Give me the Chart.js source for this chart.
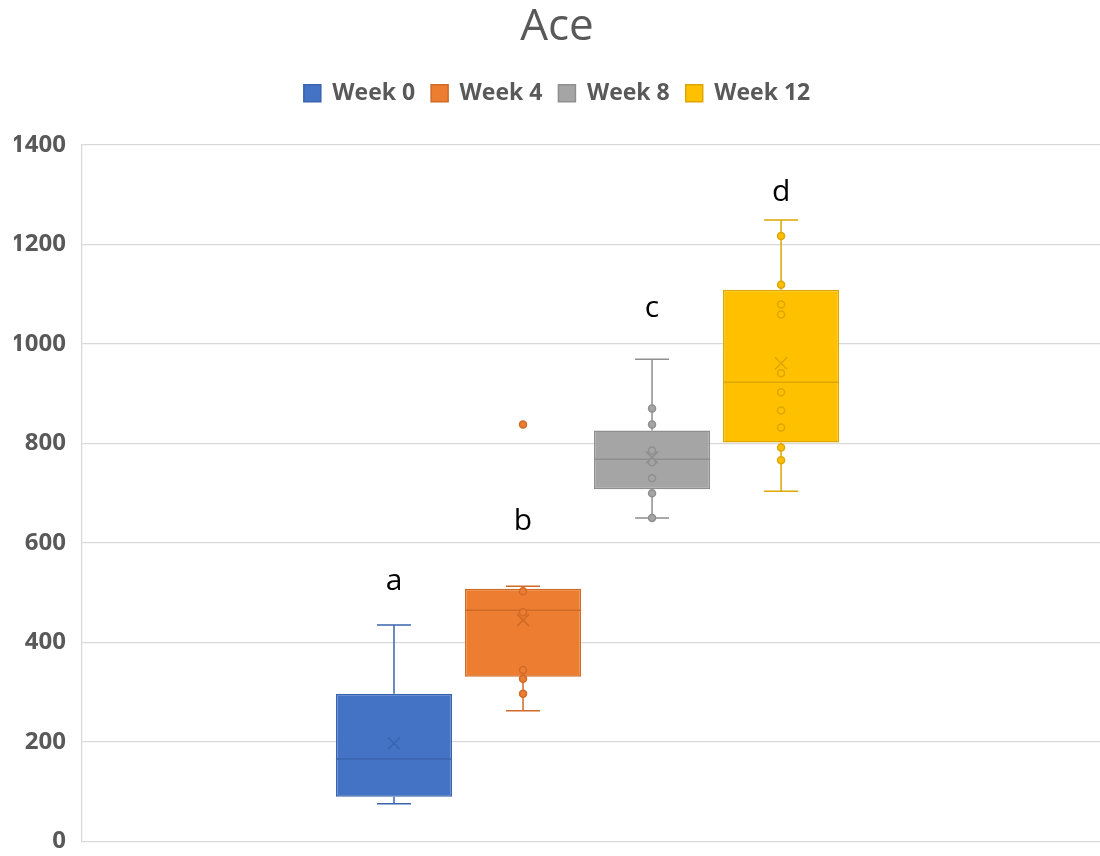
<!DOCTYPE html>
<html>
<head>
<meta charset="utf-8">
<script src="https://cdn.jsdelivr.net/npm/chart.js@4.4.1/dist/chart.umd.min.js"></script>
<style>
  html, body { margin: 0; padding: 0; background: #ffffff; }
  #wrap { width: 1100px; height: 856px; position: relative; }
</style>
</head>
<body>
<div id="wrap"><canvas id="c" width="1100" height="856"></canvas></div>
<script>
// ---- data ----
const seriesNames = ['Week 0', 'Week 4', 'Week 8', 'Week 12'];
const q1Values = [90, 331, 708, 802];
const q3Values = [297, 508, 826, 1109];
const medianValues = [166, 465, 768, 923];
const meanValues = [197, 445, 772, 961];
const whiskerLow = [76, 263, 650, 704];
const whiskerHigh = [435, 513, 969, 1249];
const pointValues = [
  [],
  [297, 327, 345, 461, 503, 838],
  [650, 700, 730, 762, 786, 838, 870],
  [766, 792, 832, 866, 903, 941, 1059, 1079, 1119, 1217]
];
const groupLetters = ['a', 'b', 'c', 'd'];
const letterValues = [505, 626, 1055, 1288];
const yTicks = [0, 200, 400, 600, 800, 1000, 1200, 1400];

// ---- styles ----
const fillColors = ['#4472C4', '#ED7D31', '#A5A5A5', '#FFC000'];
const lineColors = ['#3A64AE', '#CF6A27', '#8F8F8F', '#DDA600'];
const FONT = "'Open Sans', 'Liberation Sans', sans-serif";

const legendSpacer = {
  id: 'legendSpacer',
  beforeInit(chart) {
    const lg = chart.legend;
    if (!lg) return;
    const origFit = lg.fit;
    lg.fit = function () {
      origFit.call(this);
      this.height += 30;
    };
  }
};

const boxPlotPlugin = {
  id: 'boxPlotExtras',
  afterDatasetsDraw(chart) {
    const ctx = chart.ctx;
    const y = chart.scales.y;
    chart.data.datasets.forEach((ds, i) => {
      const meta = chart.getDatasetMeta(i);
      if (meta.hidden) return;
      const el = meta.data[0];
      if (!el) return;
      const cx = el.x;
      const halfW = el.width / 2;
      const col = lineColors[i];
      ctx.save();
      ctx.strokeStyle = col;
      ctx.lineWidth = 1.5;
      // whiskers
      const capHalf = 17;
      const yh = y.getPixelForValue(whiskerHigh[i]);
      const yl = y.getPixelForValue(whiskerLow[i]);
      ctx.beginPath();
      ctx.moveTo(cx, y.getPixelForValue(q3Values[i]));
      ctx.lineTo(cx, yh);
      ctx.moveTo(cx, y.getPixelForValue(q1Values[i]));
      ctx.lineTo(cx, yl);
      ctx.moveTo(cx - capHalf, yh); ctx.lineTo(cx + capHalf, yh);
      ctx.moveTo(cx - capHalf, yl); ctx.lineTo(cx + capHalf, yl);
      ctx.stroke();
      // median
      const ym = y.getPixelForValue(medianValues[i]);
      ctx.beginPath();
      ctx.moveTo(cx - halfW, ym); ctx.lineTo(cx + halfW, ym);
      ctx.stroke();
      // mean X
      const ya = y.getPixelForValue(meanValues[i]);
      const s = 6;
      ctx.beginPath();
      ctx.moveTo(cx - s, ya - s); ctx.lineTo(cx + s, ya + s);
      ctx.moveTo(cx - s, ya + s); ctx.lineTo(cx + s, ya - s);
      ctx.stroke();
      // points
      ctx.fillStyle = fillColors[i];
      pointValues[i].forEach(v => {
        const py = y.getPixelForValue(v);
        ctx.beginPath();
        ctx.arc(cx, py, 3.5, 0, Math.PI * 2);
        ctx.fill();
        ctx.stroke();
      });
      // letter
      ctx.fillStyle = '#000000';
      ctx.font = '30px ' + FONT;
      ctx.textAlign = 'center';
      ctx.textBaseline = 'alphabetic';
      ctx.fillText(groupLetters[i], cx, y.getPixelForValue(letterValues[i]));
      ctx.restore();
    });
  }
};

const datasets = seriesNames.map((name, i) => ({
  label: name,
  data: [[q1Values[i], q3Values[i]]],
  backgroundColor: fillColors[i],
  borderColor: lineColors[i],
  borderWidth: 1.5,
  borderSkipped: false,
  barPercentage: 0.9,
  categoryPercentage: 0.507
}));

new Chart(document.getElementById('c'), {
  type: 'bar',
  data: { labels: [''], datasets },
  options: {
    responsive: false,
    animation: false,
    layout: { padding: { left: 14, right: 0, top: 0, bottom: 0 } },
    plugins: {
      title: {
        display: true,
        text: 'Ace',
        color: '#595959',
        font: { family: FONT, size: 44, weight: 'normal' },
        padding: { top: 1, bottom: 12 }
      },
      legend: {
        display: true,
        position: 'top',
        labels: {
          color: '#595959',
          font: { family: FONT, size: 23, weight: 'bold' },
          boxWidth: 17,
          boxHeight: 17,
          padding: 16
        }
      },
      tooltip: { enabled: false }
    },
    scales: {
      x: {
        display: false,
        grid: { display: false },
        afterUpdate(scale) {
          // Excel's group sits slightly left of the plot centre
          if (typeof scale._startValue === 'number') scale._startValue += 0.0034;
        }
      },
      y: {
        min: 0,
        max: 1400,
        afterBuildTicks(scale) { scale.ticks = yTicks.map(v => ({ value: v })); },
        afterFit(scale) { scale.width = 68; },
        ticks: {
          color: '#595959',
          font: { family: FONT, size: 24, weight: 'bold' },
          padding: 0,
          callback: (v) => String(v)
        },
        grid: {
          color: '#D9D9D9',
          lineWidth: 1.3,
          drawTicks: true,
          tickLength: 16,
          tickColor: 'rgba(0,0,0,0)'
        },
        border: { display: true, color: '#D9D9D9', width: 1.3 }
      }
    }
  },
  plugins: [legendSpacer, boxPlotPlugin]
});
</script>
</body>
</html>
